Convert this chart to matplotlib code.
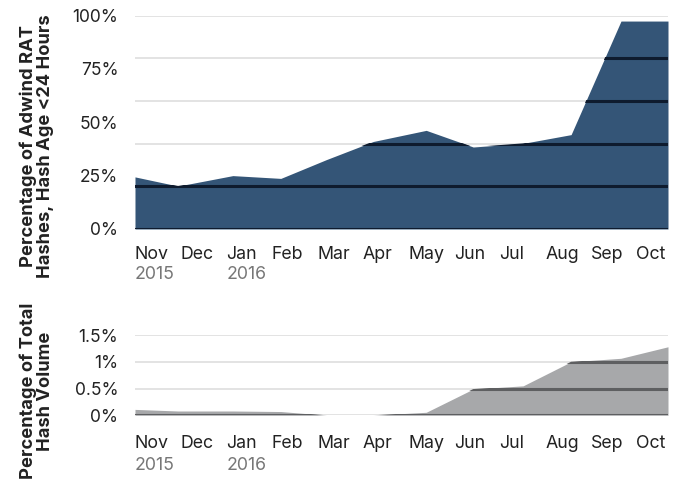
import numpy as np
import matplotlib.pyplot as plt

plt.rcParams['font.family'] = ['Inter', 'DejaVu Sans']

months = ['Nov', 'Dec', 'Jan', 'Feb', 'Mar', 'Apr', 'May', 'Jun', 'Jul', 'Aug', 'Sep', 'Oct']
years = {0: '2015', 2: '2016'}
# sample positions (month index)
x_pos = [0, 0.89, 2.02, 3.01, 3.95, 4.92, 6.01, 6.98, 8.01, 9.0, 10.03, 11]
pct_young = [24.4, 20.1, 25.0, 23.7, 32.5, 41.0, 46.2, 38.4, 40.1, 44.2, 97.4, 97.4]
pct_volume = [0.11, 0.08, 0.08, 0.07, 0.0, 0.0, 0.056, 0.49, 0.55, 1.0, 1.065, 1.28]

H = 483
fig = plt.figure(figsize=(6.79, 4.83), dpi=100)
ax1 = fig.add_axes([0.1988, 0.5259, 0.785, 0.442])
ax2 = fig.add_axes([0.1988, 0.1402, 0.785, 0.1662])


def area(ax, y, grid, ymax, fill, dark, ticks, fmt, off_m, off_y):
    ax.set_xlim(0, 11)
    ax.set_ylim(0, ymax)
    for g in grid:
        ax.axhline(g, color='#e0e0e0', lw=1.3, zorder=1)
    poly = ax.fill_between(x_pos, y, 0, color=fill, lw=0, zorder=2)
    path = poly.get_paths()[0]
    for g in grid:
        ln = ax.axhline(g, color=dark, lw=2.2, zorder=3)
        ln.set_clip_path(path, ax.transData)
    ax.set_yticks(ticks)
    ax.set_yticklabels([fmt(t) for t in ticks])
    ax.tick_params(axis='y', length=0, pad=12, labelsize=12.5, labelcolor='#222222')
    ax.set_xticks([])
    for s in ax.spines.values():
        s.set_visible(False)
    hpx = ax.get_position().height * H
    for i, m in enumerate(months):
        ax.text(i * 0.0855, -off_m / hpx, m, transform=ax.transAxes,
                ha='left', va='top', fontsize=12.8, color='#222222')
        if i in years:
            ax.text(i * 0.0855, -off_y / hpx, years[i], transform=ax.transAxes,
                    ha='left', va='top', fontsize=12.8, color='#777777')


area(ax1, pct_young, [0, 20, 40, 60, 80, 100], 100, '#345577', '#0e1b2e',
     [0, 25, 50, 75, 100], lambda t: '%d%%' % t, 17, 37)
area(ax2, pct_volume, [0, 0.5, 1.0, 1.5], 1.5, '#a7a8aa', '#5e5f61',
     [0, 0.5, 1.0, 1.5], lambda t: ('%g%%' % t), 20, 42)

fig.text(0.054, 0.697, 'Percentage of Adwind RAT\nHashes, Hash Age <24 Hours',
         rotation=90, ha='center', va='center', fontsize=13.2, fontweight='bold',
         color='#222222', linespacing=1.05)
fig.text(0.054, 0.19, 'Percentage of Total\nHash Volume',
         rotation=90, ha='center', va='center', fontsize=13.2, fontweight='bold',
         color='#222222', linespacing=1.05)

fig.savefig('out.png', dpi=100)
